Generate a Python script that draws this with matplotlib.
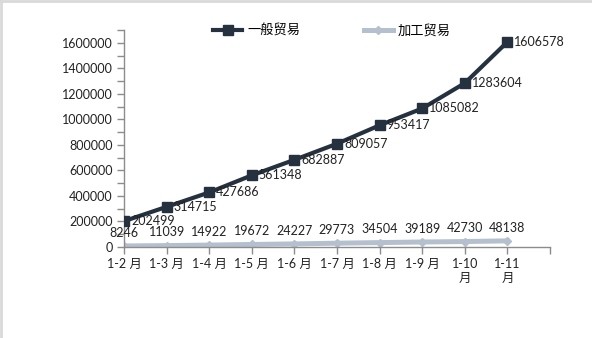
import matplotlib.pyplot as plt
from matplotlib.lines import Line2D
from matplotlib.ticker import FuncFormatter

plt.rcParams['font.family'] = ['Lato', 'Noto Sans CJK SC', 'DejaVu Sans']

months = ['1-2 月', '1-3 月', '1-4 月', '1-5 月', '1-6 月', '1-7 月',
          '1-8 月', '1-9 月', '1-10\n月', '1-11\n月']
general = [202499, 314715, 427686, 561348, 682887, 809057, 953417,
           1085082, 1283604, 1606578]
processing = [8246, 11039, 14922, 19672, 24227, 29773, 34504, 39189,
              42730, 48138]

dark = '#263140'
light = '#b5c0cf'
axis_c = '#8c8c8c'

fig = plt.figure(figsize=(5.92, 3.38), dpi=100)
ax = fig.add_axes([124 / 592, 1 - 247 / 338, 426 / 592, 217 / 338])

x = list(range(len(months)))
ax.plot(x, processing, color=light, lw=3.6, marker='D', ms=4,
        label='加工贸易', zorder=2)
ax.plot(x, general, color=dark, lw=3.0, marker='s', ms=6.5,
        label='一般贸易', zorder=3)

for xi, v in zip(x, general):
    ax.annotate(str(v), (xi, v), xytext=(5, 0), textcoords='offset points',
                ha='left', va='center', fontsize=9, color='#222222')
for xi, v in zip(x, processing):
    ax.annotate(str(v), (xi, v), xytext=(0, 9.5), textcoords='offset points',
                ha='center', va='center', fontsize=9, color='#222222')

ax.set_xlim(0, 10)
ax.set_ylim(0, 1700000)
ax.set_xticks(list(range(11)))
ax.set_xticklabels(months + [''], fontsize=9, linespacing=1.15)
ax.set_yticks(range(0, 1700001, 200000))
ax.set_yticks(range(100000, 1700001, 200000), minor=True)
ax.yaxis.set_major_formatter(FuncFormatter(lambda v, p: '%d' % v))
ax.tick_params(axis='y', labelsize=9, colors=axis_c, labelcolor='#222222',
               length=5, width=1, pad=3)
ax.tick_params(axis='y', which='minor', length=5, width=1, colors=axis_c)
ax.tick_params(axis='x', length=5, width=1, colors=axis_c,
               labelcolor='#222222', pad=3)

for s in ['top', 'right']:
    ax.spines[s].set_visible(False)
for s in ['left', 'bottom']:
    ax.spines[s].set_color(axis_c)
    ax.spines[s].set_linewidth(1)

handles = [Line2D([], [], color=dark, lw=3.0, marker='s', ms=6.5),
           Line2D([], [], color=light, lw=3.6, marker='D', ms=4)]
fig.legend(handles, ['一般贸易', '加工贸易'], loc='center',
           bbox_to_anchor=(332 / 592, 1 - 30 / 338), ncol=2, frameon=False,
           fontsize=9.5, handlelength=2.2, columnspacing=4.8, handletextpad=0.4)

# light frame on top and left edges
fig.add_artist(Line2D([0, 1], [0.997, 0.997], color='#d9d9d9', lw=2,
                      transform=fig.transFigure))
fig.add_artist(Line2D([0.002, 0.002], [0, 1], color='#d9d9d9', lw=2,
                      transform=fig.transFigure))

fig.savefig('out.png', dpi=100)
